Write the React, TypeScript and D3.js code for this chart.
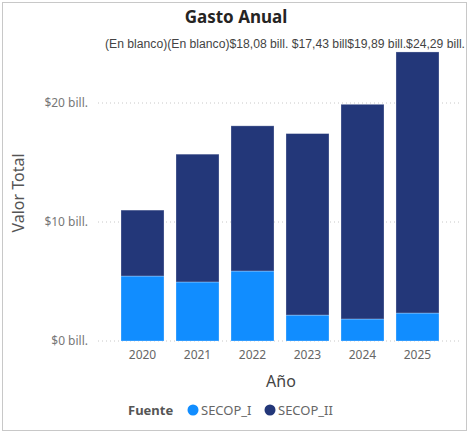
import React from "react";
import * as d3 from "d3";

const years = ["2020", "2021", "2022", "2023", "2024", "2025"];
const secopI = [5.46, 4.96, 5.88, 2.18, 1.85, 2.35];
const secopII = [5.54, 10.74, 12.2, 15.25, 18.04, 21.94];
const totalLabels = ["(En blanco)", "(En blanco)", "$18,08 bill. ", "$17,43 bill", "$19,89 bill.", "$24,29 bill."];
const yTicks = [0, 10, 20];
const seriesNames = ["SECOP_I", "SECOP_II"];
const colors = ["#118DFF", "#233779"];

const W = 474;
const H = 434;
const font = "'Segoe UI', 'Noto Sans', 'Open Sans', sans-serif";

export default function App() {
  const x = d3.scaleBand<string>().domain(years).range([110, 450]).paddingInner(0.218).paddingOuter(0.2);
  const y = d3.scaleLinear().domain([0, 25]).range([341, 43.5]);
  const rows = years.map((yr, i) => ({ year: yr, SECOP_I: secopI[i], SECOP_II: secopII[i] }));
  const stack = d3.stack<any>().keys(seriesNames)(rows);

  return (
    <svg width={W} height={H} style={{ position: "absolute", left: 0, top: 0, background: "#fff" }}>
      <rect x={2.5} y={2.5} width={464} height={428} fill="#fff" stroke="#c8c8c8" />
      <text x={236} y={23} textAnchor="middle" fontFamily={font} fontWeight="bold" fontSize={17} fill="#252423">
        Gasto Anual
      </text>
      {yTicks.map((t) => (
        <g key={t}>
          <line x1={98} x2={460} y1={y(t)} y2={y(t)} stroke="#c8c8c8" strokeDasharray="1 3" />
          <text x={88} y={y(t)} dy="0.35em" textAnchor="end" fontFamily={font} fontSize={12} fill="#777">
            {`$${t} bill.`}
          </text>
        </g>
      ))}
      <text
        transform={`translate(24,193) rotate(-90)`}
        textAnchor="middle"
        fontFamily={font}
        fontSize={16}
        fill="#555"
      >
        Valor Total
      </text>
      {stack.map((s, si) => (
        <g key={seriesNames[si]} fill={colors[si]}>
          {s.map((d, i) => (
            <rect
              key={i}
              x={x(years[i])}
              width={x.bandwidth()}
              y={y(d[1])}
              height={y(d[0]) - y(d[1])}
              stroke="#ffffff"
              strokeOpacity={0.35}
              strokeWidth={0.8}
            />
          ))}
        </g>
      ))}
      <text
        x={105}
        y={48}
        textLength={360}
        lengthAdjust="spacingAndGlyphs"
        fontFamily="'Liberation Sans', Arial, sans-serif"
        fontSize={12}
        fill="#444"
      >
        {totalLabels.join("")}
      </text>
      {years.map((yr) => (
        <text
          key={yr}
          x={(x(yr) as number) + x.bandwidth() / 2}
          y={355}
          dy="0.35em"
          textAnchor="middle"
          fontFamily={font}
          fontSize={12}
          fill="#666"
        >
          {yr}
        </text>
      ))}
      <text x={281} y={381} dy="0.35em" textAnchor="middle" fontFamily={font} fontSize={16} fill="#444">
        Año
      </text>
      <g fontFamily={font} fontSize={13}>
        <text x={128} y={410} dy="0.35em" fontWeight="bold" fill="#555">
          Fuente
        </text>
        {seriesNames.map((n, i) => {
          const cx = i === 0 ? 193 : 270;
          return (
            <g key={n}>
              <circle cx={cx} cy={410} r={5.5} fill={colors[i]} />
              <text x={cx + 8} y={410} dy="0.35em" fill="#666">
                {n}
              </text>
            </g>
          );
        })}
      </g>
    </svg>
  );
}
